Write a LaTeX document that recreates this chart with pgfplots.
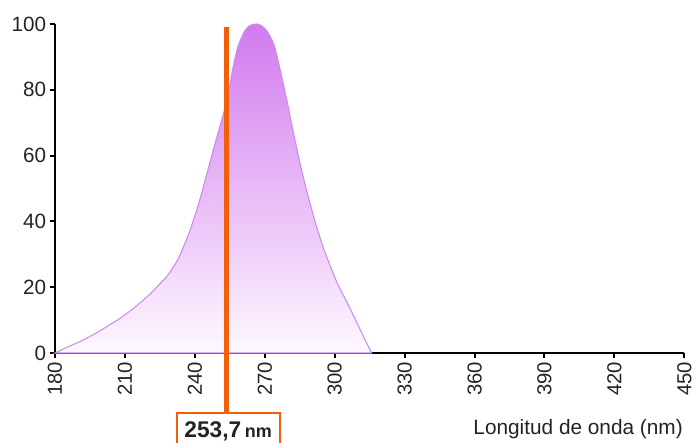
\documentclass[border=0pt]{standalone}
\usepackage{fontspec}
\setmainfont{Liberation Sans}
\usepackage{pgfplots}
\pgfplotsset{compat=1.18}
\definecolor{curveline}{RGB}{205,140,240}
\definecolor{filltop}{RGB}{210,122,238}
\definecolor{fillbot}{RGB}{253,248,255}
\definecolor{markorange}{RGB}{242,95,12}
\definecolor{labeltext}{RGB}{35,35,35}

\begin{document}
\begin{tikzpicture}
\useasboundingbox (0,0) rectangle (522.75pt,332.25pt);
\begin{axis}[
    at={(41.25pt,67.5pt)}, anchor=south west,
    scale only axis,
    width=472pt, height=246.75pt,
    xmin=180, xmax=450, ymin=0, ymax=100,
    axis lines=left,
    axis line style={-, line width=2pt, black},
    xtick={180,210,...,450},
    ytick={0,20,...,100},
    tick align=outside,
    major tick length=4pt,
    tick style={line width=1.5pt, black},
    /pgf/number format/assume math mode=true,
    ticklabel style={text=labeltext},
    x tick label style={rotate=90, anchor=east, inner sep=2.5pt,
                        font=\fontsize{15.2}{17}\selectfont},
    y tick label style={inner sep=2.5pt, font=\fontsize{15.5}{17}\selectfont},
    xlabel={Longitud de onda (nm)},
    xlabel style={at={(axis description cs:1.005,-0.249)}, anchor=base east,
                  text=labeltext, font=\fontsize{15.6}{18}\selectfont},
    clip=false,
]
% absorbance curve
\addplot[draw=curveline, line width=0.8pt, top color=filltop, bottom color=fillbot,
         smooth, tension=0.4] coordinates {
    (180,0) (186,2) (192,3.9) (198,6.2) (203.3,8.5) (208,10.6) (213,13.2)
    (217.4,15.8) (220.3,17.6) (224,20.3) (227.3,22.7) (230,25.3) (233,28.8)
    (237.2,35.9) (241.5,45) (245,54.1) (248.5,63.2) (252.1,72.3) (254.2,78)
    (256.3,86.5) (258.4,93) (261.3,97.8) (263.5,99.5) (266.5,100) (269,99.3)
    (271.1,97.7) (274,93.6) (276.8,85.5) (279.6,76.4) (282.5,66.3)
    (285.3,57.1) (288.1,49) (291.6,39.9) (295.2,31.8) (300.8,21.7)
    (304.5,16.5) (307.9,11.6) (312,5.5) (315.8,0)
} \closedcycle;
% marker line at 253.7 nm
\addplot[markorange, line width=3.75pt, forget plot] coordinates {(253.7,99) (253.7,-17.9)};
\node[draw=markorange, line width=1.5pt, anchor=north, minimum width=77pt,
      inner ysep=6.5pt, text height=12pt, text depth=14pt, text=labeltext]
  at (axis cs:254.3,-17.9)
  {{\fontsize{17}{19}\selectfont\bfseries 253,7} {\fontsize{13.5}{15}\selectfont\bfseries nm}};
\end{axis}
\end{tikzpicture}
\end{document}
